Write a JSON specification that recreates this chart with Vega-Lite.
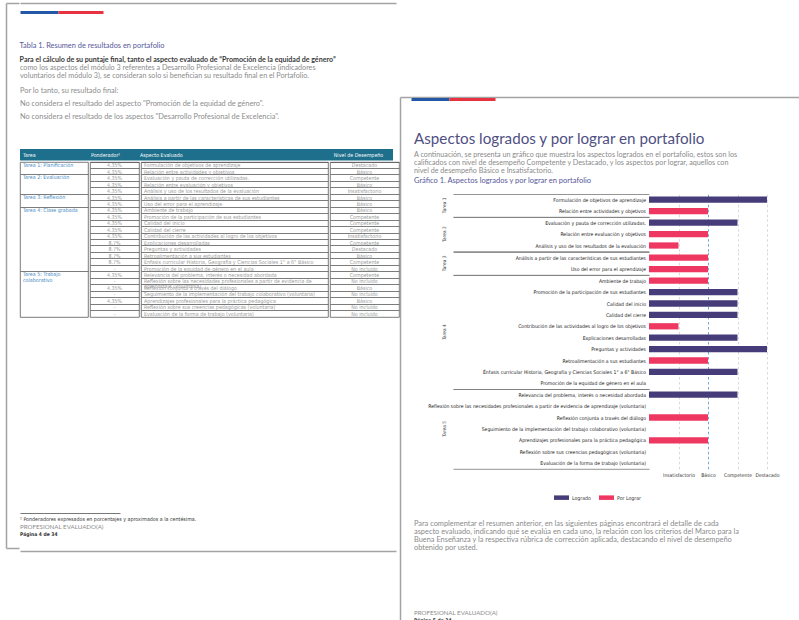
{
  "$schema": "https://vega.github.io/schema/vega-lite/v6.json",
  "background": "#ffffff",
  "padding": {"left": 6, "top": 3, "right": 0, "bottom": 0},
  "spacing": 0,
  "config": {
    "view": {"stroke": null},
    "font": "Lato",
    "title": {"anchor": "start", "frame": "bounds"},
    "axis": {"labelFont": "DejaVu Sans Condensed"}
  },
  "datasets": {
    "aspectos": [
      {"tarea": "Tarea 1", "tarea_nombre": "Tarea 1: Planificación", "aspecto": "Formulación de objetivos de aprendizaje", "ponderador": "4.35%", "nivel": "Destacado", "puntaje": 4, "estado": "Logrado"},
      {"tarea": "Tarea 1", "tarea_nombre": "Tarea 1: Planificación", "aspecto": "Relación entre actividades y objetivos", "ponderador": "4.35%", "nivel": "Básico", "puntaje": 2, "estado": "Por Lograr"},
      {"tarea": "Tarea 2", "tarea_nombre": "Tarea 2: Evaluación", "aspecto": "Evaluación y pauta de corrección utilizadas.", "ponderador": "4.35%", "nivel": "Competente", "puntaje": 3, "estado": "Logrado"},
      {"tarea": "Tarea 2", "tarea_nombre": "Tarea 2: Evaluación", "aspecto": "Relación entre evaluación y objetivos", "ponderador": "4.35%", "nivel": "Básico", "puntaje": 2, "estado": "Por Lograr"},
      {"tarea": "Tarea 2", "tarea_nombre": "Tarea 2: Evaluación", "aspecto": "Análisis y uso de los resultados de la evaluación", "ponderador": "4.35%", "nivel": "Insatisfactorio", "puntaje": 1, "estado": "Por Lograr"},
      {"tarea": "Tarea 3", "tarea_nombre": "Tarea 3: Reflexión", "aspecto": "Análisis a partir de las características de sus estudiantes", "ponderador": "4.35%", "nivel": "Básico", "puntaje": 2, "estado": "Por Lograr"},
      {"tarea": "Tarea 3", "tarea_nombre": "Tarea 3: Reflexión", "aspecto": "Uso del error para el aprendizaje", "ponderador": "4.35%", "nivel": "Básico", "puntaje": 2, "estado": "Por Lograr"},
      {"tarea": "Tarea 4", "tarea_nombre": "Tarea 4: Clase grabada", "aspecto": "Ambiente de trabajo", "ponderador": "4.35%", "nivel": "Básico", "puntaje": 2, "estado": "Por Lograr"},
      {"tarea": "Tarea 4", "tarea_nombre": "Tarea 4: Clase grabada", "aspecto": "Promoción de la participación de sus estudiantes", "ponderador": "4.35%", "nivel": "Competente", "puntaje": 3, "estado": "Logrado"},
      {"tarea": "Tarea 4", "tarea_nombre": "Tarea 4: Clase grabada", "aspecto": "Calidad del inicio", "ponderador": "4.35%", "nivel": "Competente", "puntaje": 3, "estado": "Logrado"},
      {"tarea": "Tarea 4", "tarea_nombre": "Tarea 4: Clase grabada", "aspecto": "Calidad del cierre", "ponderador": "4.35%", "nivel": "Competente", "puntaje": 3, "estado": "Logrado"},
      {"tarea": "Tarea 4", "tarea_nombre": "Tarea 4: Clase grabada", "aspecto": "Contribución de las actividades al logro de los objetivos", "ponderador": "4.35%", "nivel": "Insatisfactorio", "puntaje": 1, "estado": "Por Lograr"},
      {"tarea": "Tarea 4", "tarea_nombre": "Tarea 4: Clase grabada", "aspecto": "Explicaciones desarrolladas", "ponderador": "8.7%", "nivel": "Competente", "puntaje": 3, "estado": "Logrado"},
      {"tarea": "Tarea 4", "tarea_nombre": "Tarea 4: Clase grabada", "aspecto": "Preguntas y actividades", "ponderador": "8.7%", "nivel": "Destacado", "puntaje": 4, "estado": "Logrado"},
      {"tarea": "Tarea 4", "tarea_nombre": "Tarea 4: Clase grabada", "aspecto": "Retroalimentación a sus estudiantes", "ponderador": "8.7%", "nivel": "Básico", "puntaje": 2, "estado": "Por Lograr"},
      {"tarea": "Tarea 4", "tarea_nombre": "Tarea 4: Clase grabada", "aspecto": "Énfasis curricular Historia, Geografía y Ciencias Sociales 1° a 6° Básico", "ponderador": "8.7%", "nivel": "Competente", "puntaje": 3, "estado": "Logrado"},
      {"tarea": "Tarea 4", "tarea_nombre": "Tarea 4: Clase grabada", "aspecto": "Promoción de la equidad de género en el aula", "ponderador": "-", "nivel": "No incluido", "puntaje": null, "estado": null},
      {"tarea": "Tarea 5", "tarea_nombre": "Tarea 5: Trabajo\ncolaborativo", "aspecto": "Relevancia del problema, interés o necesidad abordada", "ponderador": "4.35%", "nivel": "Competente", "puntaje": 3, "estado": "Logrado"},
      {"tarea": "Tarea 5", "tarea_nombre": "Tarea 5: Trabajo\ncolaborativo", "aspecto": "Reflexión sobre las necesidades profesionales a partir de evidencia de \u200baprendizaje (voluntaria)", "ponderador": "-", "nivel": "No incluido", "puntaje": null, "estado": null},
      {"tarea": "Tarea 5", "tarea_nombre": "Tarea 5: Trabajo\ncolaborativo", "aspecto": "Reflexión conjunta a través del diálogo", "ponderador": "4.35%", "nivel": "Básico", "puntaje": 2, "estado": "Por Lograr"},
      {"tarea": "Tarea 5", "tarea_nombre": "Tarea 5: Trabajo\ncolaborativo", "aspecto": "Seguimiento de la implementación del trabajo colaborativo (voluntaria)", "ponderador": "-", "nivel": "No incluido", "puntaje": null, "estado": null},
      {"tarea": "Tarea 5", "tarea_nombre": "Tarea 5: Trabajo\ncolaborativo", "aspecto": "Aprendizajes profesionales para la práctica pedagógica", "ponderador": "4.35%", "nivel": "Básico", "puntaje": 2, "estado": "Por Lograr"},
      {"tarea": "Tarea 5", "tarea_nombre": "Tarea 5: Trabajo\ncolaborativo", "aspecto": "Reflexión sobre sus creencias pedagógicas (voluntaria)", "ponderador": "-", "nivel": "No incluido", "puntaje": null, "estado": null},
      {"tarea": "Tarea 5", "tarea_nombre": "Tarea 5: Trabajo\ncolaborativo", "aspecto": "Evaluación de la forma de trabajo (voluntaria)", "ponderador": "-", "nivel": "No incluido", "puntaje": null, "estado": null}
    ],
    "encabezado": [
      {"col": "Tarea"}, {"col": "Ponderador¹"}, {"col": "Aspecto Evaluado"}, {"col": "Nivel de Desempeño"}
    ],
    "pie_izq": [
      {"t": "¹ Ponderadores expresados en porcentajes y aproximados a la centésima.", "k": "nota"},
      {"t": "PROFESIONAL EVALUADO(A)", "k": "perfil"},
      {"t": "Página 4 de 34", "k": "pagina"}
    ],
    "parrafo": [
      {"linea": "Para complementar el resumen anterior, en las siguientes páginas encontrará el detalle de cada"},
      {"linea": "aspecto evaluado, indicando qué se evalúa en cada uno, la relación con los criterios del Marco para la"},
      {"linea": "Buena Enseñanza y la respectiva rúbrica de corrección aplicada, destacando el nivel de desempeño"},
      {"linea": "obtenido por usted."}
    ],
    "pie_der": [
      {"t": "PROFESIONAL EVALUADO(A)", "k": "perfil"},
      {"t": "Página 5 de 34", "k": "pagina"}
    ]
  },
  "hconcat": [
    {
      "spacing": 0,
      "hconcat": [
        {
          "data": {"values": []}, "width": 13, "height": 545,
          "resolve": {"axis": {"x": "independent"}},
          "layer": [
            {"mark": "point", "encoding": {
              "x": {"field": "v", "type": "quantitative", "scale": {"domain": [0, 1]}, "axis": {"orient": "top", "domain": true, "domainColor": "#a3a3a3", "domainWidth": 1.5, "ticks": false, "labels": false, "grid": false, "title": null}},
              "y": {"field": "w", "type": "quantitative", "scale": {"domain": [0, 1]}, "axis": {"orient": "left", "domain": true, "domainColor": "#a3a3a3", "domainWidth": 1.5, "ticks": false, "labels": false, "grid": false, "title": null}}}},
            {"mark": "point", "encoding": {
              "x": {"field": "v", "type": "quantitative", "axis": {"orient": "bottom", "domain": true, "domainColor": "#a3a3a3", "domainWidth": 1.5, "ticks": false, "labels": false, "grid": false, "title": null}}}}
          ]
        },
        {
          "spacing": 10,
          "vconcat": [
            {
              "spacing": 0,
              "vconcat": [
                {"data": {"values": []}, "mark": "point", "width": 376, "height": 9,
                 "encoding": {"x": {"field": "v", "type": "quantitative", "scale": {"domain": [0, 1]}, "axis": {"orient": "top", "domain": true, "domainColor": "#a3a3a3", "domainWidth": 1.5, "ticks": false, "labels": false, "grid": false, "title": null}}}},
                {
                  "spacing": 195,
                  "vconcat": [
                    {
                      "spacing": 29,
                      "vconcat": [
                        {
                          "spacing": 0,
                          "hconcat": [
                            {"data": {"values": []}, "mark": "point", "width": 38, "height": 1,
                             "encoding": {"x": {"field": "v", "type": "quantitative", "scale": {"domain": [0, 1]}, "axis": {"orient": "top", "domain": true, "domainColor": "#2357a8", "domainWidth": 3, "ticks": false, "labels": false, "grid": false, "title": null}}}},
                            {"data": {"values": []}, "mark": "point", "width": 45, "height": 1,
                             "encoding": {"x": {"field": "v", "type": "quantitative", "scale": {"domain": [0, 1]}, "axis": {"orient": "top", "domain": true, "domainColor": "#e8323f", "domainWidth": 3, "ticks": false, "labels": false, "grid": false, "title": null}}}}
                          ]
                        },
                        {
                          "title": {"text": "Tabla 1. Resumen de resultados en portafolio", "subtitle": "Para el cálculo de su puntaje final, tanto el aspecto evaluado de “Promoción de la equidad de género”", "font": "Lato", "fontSize": 7.4, "fontWeight": "normal", "color": "#56589a", "subtitleFont": "Lato", "subtitleFontSize": 7.1, "subtitleFontWeight": "bold", "subtitleColor": "#3a3a3a", "subtitlePadding": 6, "offset": 1},
                          "spacing": 0,
                          "vconcat": [
                            {
                              "title": {"text": ["como los aspectos del módulo 3 referentes a Desarrollo Profesional de Excelencia (indicadores", "voluntarios del módulo 3), se consideran solo si benefician su resultado final en el Portafolio."], "font": "Lato", "fontSize": 7.2, "fontWeight": "normal", "color": "#8c8c8c", "lineHeight": 8.7, "subtitle": ["Por lo tanto, su resultado final:", "No considera el resultado del aspecto \"Promoción de la equidad de género\".", "No considera el resultado de los aspectos \"Desarrollo Profesional de Excelencia\"."], "subtitleFont": "Lato", "subtitleFontSize": 7.4, "subtitleColor": "#8c8c8c", "subtitleLineHeight": 13, "subtitlePadding": 7, "offset": 29},
                              "spacing": 0,
                              "hconcat": [
                                {"data": {"name": "encabezado"}, "transform": [{"filter": "datum.col === 'Tarea'"}], "width": 68, "height": 11.5, "view": {"fill": "#1d6f8c", "stroke": null},
                                 "mark": {"type": "text", "align": "left", "dx": 3, "font": "DejaVu Sans Condensed", "fontSize": 5.3, "color": "#ffffff"},
                                 "encoding": {"x": {"datum": 0, "type": "quantitative", "scale": {"domain": [0, 1]}, "axis": null}, "text": {"field": "col"}}},
                                {"data": {"name": "encabezado"}, "transform": [{"filter": "datum.col === 'Ponderador¹'"}], "width": 49, "height": 11.5, "view": {"fill": "#1d6f8c", "stroke": null},
                                 "mark": {"type": "text", "align": "left", "dx": 3, "font": "DejaVu Sans Condensed", "fontSize": 5.3, "color": "#ffffff"},
                                 "encoding": {"x": {"datum": 0, "type": "quantitative", "scale": {"domain": [0, 1]}, "axis": null}, "text": {"field": "col"}}},
                                {"data": {"name": "encabezado"}, "transform": [{"filter": "datum.col === 'Aspecto Evaluado'"}], "width": 187, "height": 11.5, "view": {"fill": "#1d6f8c", "stroke": null},
                                 "mark": {"type": "text", "align": "left", "dx": 3, "font": "DejaVu Sans Condensed", "fontSize": 5.3, "color": "#ffffff"},
                                 "encoding": {"x": {"datum": 0, "type": "quantitative", "scale": {"domain": [0, 1]}, "axis": null}, "text": {"field": "col"}}},
                                {"data": {"name": "encabezado"}, "transform": [{"filter": "datum.col === 'Nivel de Desempeño'"}], "width": 69, "height": 11.5, "view": {"fill": "#1d6f8c", "stroke": null},
                                 "mark": {"type": "text", "align": "center", "font": "DejaVu Sans Condensed", "fontSize": 5.3, "color": "#ffffff"},
                                 "encoding": {"text": {"field": "col"}}}
                              ]
                            },
                            {
                              "spacing": 0,
                              "hconcat": [
                                {"data": {"name": "aspectos"}, "transform": [{"window": [{"op": "row_number", "as": "orden"}], "groupby": ["tarea"]}],
                                 "width": 68, "height": 155, "view": {"stroke": "#5a5a5a", "strokeWidth": 0.8},
                                 "mark": {"type": "text", "align": "left", "baseline": "top", "dx": 3, "dy": -2.7, "font": "DejaVu Sans Condensed", "fontSize": 5.3, "color": "#4a8cc4", "lineBreak": "\n", "lineHeight": 5.6},
                                 "encoding": {
                                   "y": {"field": "aspecto", "type": "nominal", "sort": null, "scale": {"type": "band", "paddingInner": 0, "paddingOuter": 0}, "axis": {"domain": false, "ticks": false, "labels": false, "title": null, "grid": true, "gridColor": "#5a5a5a", "gridWidth": 0.8, "bandPosition": 0, "values": ["Evaluación y pauta de corrección utilizadas.", "Análisis a partir de las características de sus estudiantes", "Ambiente de trabajo", "Relevancia del problema, interés o necesidad abordada"]}},
                                   "x": {"datum": 0, "type": "quantitative", "scale": {"domain": [0, 1]}, "axis": null},
                                   "text": {"condition": {"test": "datum.orden === 1", "field": "tarea_nombre"}, "value": ""}
                                 }},
                                {"data": {"name": "aspectos"}, "width": 49, "height": 155, "view": {"stroke": "#5a5a5a", "strokeWidth": 0.8},
                                 "mark": {"type": "text", "align": "center", "baseline": "middle", "font": "DejaVu Sans Condensed", "fontSize": 5.3, "color": "#9a9a9a"},
                                 "encoding": {
                                   "y": {"field": "aspecto", "type": "nominal", "sort": null, "scale": {"type": "band", "paddingInner": 0, "paddingOuter": 0}, "axis": {"domain": false, "ticks": false, "labels": false, "title": null, "grid": true, "gridColor": "#5a5a5a", "gridWidth": 0.8, "bandPosition": 0}},
                                   "text": {"field": "ponderador"}
                                 }},
                                {"data": {"name": "aspectos"}, "width": 187, "height": 155, "view": {"stroke": "#5a5a5a", "strokeWidth": 0.8},
                                 "mark": {"type": "text", "align": "left", "baseline": "middle", "dx": 3, "font": "DejaVu Sans Condensed", "fontSize": 5.3, "color": "#9a9a9a", "lineBreak": "\u200b", "lineHeight": 4.8},
                                 "encoding": {
                                   "y": {"field": "aspecto", "type": "nominal", "sort": null, "scale": {"type": "band", "paddingInner": 0, "paddingOuter": 0}, "axis": {"domain": false, "ticks": false, "labels": false, "title": null, "grid": true, "gridColor": "#5a5a5a", "gridWidth": 0.8, "bandPosition": 0}},
                                   "x": {"datum": 0, "type": "quantitative", "scale": {"domain": [0, 1]}, "axis": null},
                                   "text": {"field": "aspecto"}
                                 }},
                                {"data": {"name": "aspectos"}, "width": 69, "height": 155, "view": {"stroke": "#5a5a5a", "strokeWidth": 0.8},
                                 "mark": {"type": "text", "align": "center", "baseline": "middle", "font": "DejaVu Sans Condensed", "fontSize": 5.3, "color": "#9a9a9a"},
                                 "encoding": {
                                   "y": {"field": "aspecto", "type": "nominal", "sort": null, "scale": {"type": "band", "paddingInner": 0, "paddingOuter": 0}, "axis": {"domain": false, "ticks": false, "labels": false, "title": null, "grid": true, "gridColor": "#5a5a5a", "gridWidth": 0.8, "bandPosition": 0}},
                                   "text": {"field": "nivel"}
                                 }}
                              ]
                            }
                          ]
                        }
                      ]
                    },
                    {
                      "data": {"name": "pie_izq"},
                      "width": 100, "height": {"step": 7.5},
                      "encoding": {
                        "y": {"field": "t", "type": "nominal", "sort": null, "axis": null, "scale": {"type": "point", "padding": 0.8}},
                        "x": {"datum": 0, "type": "quantitative", "scale": {"domain": [0, 1]}, "axis": {"orient": "top", "domain": true, "domainColor": "#555555", "domainWidth": 0.8, "ticks": false, "labels": false, "grid": false, "title": null}},
                        "text": {"field": "t"}
                      },
                      "layer": [
                        {"transform": [{"filter": "datum.k === 'nota'"}], "mark": {"type": "text", "align": "left", "baseline": "middle", "font": "DejaVu Sans Condensed", "fontSize": 5.3, "color": "#333333"}},
                        {"transform": [{"filter": "datum.k === 'perfil'"}], "mark": {"type": "text", "align": "left", "baseline": "middle", "font": "Lato", "fontSize": 6.2, "color": "#8c8c8c"}},
                        {"transform": [{"filter": "datum.k === 'pagina'"}], "mark": {"type": "text", "align": "left", "baseline": "middle", "font": "DejaVu Sans Condensed", "fontSize": 5, "fontWeight": "bold", "color": "#333333"}}
                      ]
                    }
                  ]
                }
              ]
            },
            {"data": {"values": []}, "mark": "point", "width": 376, "height": 1,
             "encoding": {"x": {"field": "v", "type": "quantitative", "scale": {"domain": [0, 1]}, "axis": {"orient": "bottom", "domain": true, "domainColor": "#a3a3a3", "domainWidth": 1.5, "ticks": false, "labels": false, "grid": false, "title": null}}}}
          ]
        }
      ]
    },
    {
      "spacing": 0,
      "hconcat": [
        {
          "spacing": 0,
          "vconcat": [
            {"data": {"values": []}, "mark": "point", "width": 11, "height": 94},
            {"data": {"values": []}, "mark": "point", "width": 11, "height": 523,
             "encoding": {
               "x": {"field": "v", "type": "quantitative", "scale": {"domain": [0, 1]}, "axis": {"orient": "top", "domain": true, "domainColor": "#a3a3a3", "domainWidth": 1.5, "ticks": false, "labels": false, "grid": false, "title": null}},
               "y": {"field": "w", "type": "quantitative", "scale": {"domain": [0, 1]}, "axis": {"orient": "left", "domain": true, "domainColor": "#a3a3a3", "domainWidth": 1.5, "ticks": false, "labels": false, "grid": false, "title": null}}}}
          ]
        },
        {
          "spacing": 57,
          "vconcat": [
            {
              "spacing": 42,
              "vconcat": [
                {
                  "spacing": 32,
                  "vconcat": [
                    {
                      "spacing": 2,
                      "vconcat": [
                        {"data": {"values": []}, "mark": "point", "width": 392, "height": 94,
                         "encoding": {"x": {"field": "v", "type": "quantitative", "scale": {"domain": [0, 1]}, "axis": {"orient": "bottom", "domain": true, "domainColor": "#a3a3a3", "domainWidth": 1.5, "ticks": false, "labels": false, "grid": false, "title": null}}}},
                        {
                          "spacing": 0,
                          "hconcat": [
                            {"data": {"values": []}, "mark": "point", "width": 38, "height": 1,
                             "encoding": {"x": {"field": "v", "type": "quantitative", "scale": {"domain": [0, 1]}, "axis": {"orient": "top", "domain": true, "domainColor": "#2357a8", "domainWidth": 3, "ticks": false, "labels": false, "grid": false, "title": null}}}},
                            {"data": {"values": []}, "mark": "point", "width": 46, "height": 1,
                             "encoding": {"x": {"field": "v", "type": "quantitative", "scale": {"domain": [0, 1]}, "axis": {"orient": "top", "domain": true, "domainColor": "#e8323f", "domainWidth": 3, "ticks": false, "labels": false, "grid": false, "title": null}}}}
                          ]
                        }
                      ]
                    },
                    {
                      "title": {"text": "Aspectos logrados y por lograr en portafolio", "subtitle": ["A continuación, se presenta un gráfico que muestra los aspectos logrados en el portafolio, estos son los", "calificados con nivel de desempeño Competente y Destacado, y los aspectos por lograr, aquellos con", "nivel de desempeño Básico e Insatisfactorio."], "font": "Lato", "fontSize": 15.2, "fontWeight": "normal", "color": "#4f4f82", "subtitleFont": "Lato", "subtitleFontSize": 7.2, "subtitleColor": "#8a8a8a", "subtitleLineHeight": 7.8, "subtitlePadding": 4, "offset": 3, "dx": 3},
                      "vconcat": [
                        {
                          "title": {"text": "Gráfico 1. Aspectos logrados y por lograr en portafolio", "font": "Lato", "fontSize": 7.5, "fontWeight": "normal", "color": "#56589a", "offset": 9, "dx": 3},
                          "spacing": 0,
                          "hconcat": [
                            {"data": {"values": []}, "mark": "point", "width": 17, "height": 1},
                            {
                              "data": {"name": "aspectos"},
                              "facet": {"row": {"field": "tarea", "type": "nominal", "header": {"title": null, "labelAngle": -90, "labelFont": "DejaVu Sans Condensed", "labelFontSize": 4.8, "labelColor": "#444444", "labelPadding": 3}}},
                              "spacing": 0,
                              "bounds": "flush",
                              "resolve": {"scale": {"y": "independent"}, "axis": {"x": "independent"}},
                              "spec": {
                                "width": 196, "height": {"step": 11.4},
                                "resolve": {"axis": {"x": "independent"}},
                                "layer": [
                                  {"mark": {"type": "text", "align": "right", "baseline": "middle", "dx": -3, "font": "DejaVu Sans Condensed", "fontSize": 5.1, "color": "#222222"},
                                   "encoding": {
                                     "y": {"field": "aspecto", "type": "nominal", "sort": null, "axis": null},
                                     "x": {"datum": 1, "type": "quantitative", "scale": {"domain": [0, 1]}, "axis": {"orient": "top", "domain": true, "domainColor": "#7a7a7a", "domainWidth": 0.8, "ticks": false, "labels": false, "grid": false, "title": null}},
                                     "text": {"field": "aspecto"}
                                   }},
                                  {"mark": {"type": "text", "align": "right"},
                                   "encoding": {
                                     "y": {"field": "aspecto", "type": "nominal", "sort": null, "axis": null},
                                     "x": {"datum": 1, "type": "quantitative", "axis": {"orient": "bottom", "domain": true, "domainColor": "#7a7a7a", "domainWidth": 0.8, "ticks": false, "labels": false, "grid": false, "title": null}},
                                     "text": {"value": ""}
                                   }}
                                ]
                              }
                            },
                            {
                              "data": {"name": "aspectos"},
                              "facet": {"row": {"field": "tarea", "type": "nominal", "header": null}},
                              "spacing": 0,
                              "bounds": "flush",
                              "resolve": {"scale": {"y": "independent"}},
                              "spec": {
                                "width": 118, "height": {"step": 11.4},
                                "mark": {"type": "bar", "invalid": "show"},
                                "encoding": {
                                  "y": {"field": "aspecto", "type": "nominal", "sort": null, "axis": null, "scale": {"paddingInner": 0.45, "paddingOuter": 0.225}},
                                  "x": {"field": "puntaje", "type": "quantitative", "scale": {"domain": [0, 4]},
                                        "axis": {"values": [1, 2, 3, 4], "labelExpr": "['', 'Insatisfactorio', 'Básico', 'Competente', 'Destacado'][datum.value]", "labelOverlap": false, "labelFlush": false, "grid": true, "gridDash": [2.5, 2.5], "gridWidth": 0.8, "gridColor": {"condition": {"test": "datum.value === 2", "value": "#4d8fcc"}, "value": "#cfcfcf"}, "domain": false, "ticks": false, "title": null, "labelFontSize": 5, "labelFont": "DejaVu Sans Condensed", "labelColor": "#333333", "labelPadding": 3}},
                                  "color": {"field": "estado", "type": "nominal", "scale": {"domain": ["Logrado", "Por Lograr"], "range": ["#463c79", "#ef3861"]},
                                            "legend": {"orient": "none", "legendX": 548, "legendY": 487, "direction": "horizontal", "title": null, "symbolType": "M-1,-0.3H1V0.3H-1Z", "symbolSize": 225, "symbolStrokeWidth": 0, "labelFont": "DejaVu Sans Condensed", "labelFontSize": 5.2, "labelColor": "#333333", "columnPadding": 8, "labelOffset": 3}}
                                }
                              }
                            }
                          ]
                        }
                      ]
                    }
                  ]
                },
                {
                  "data": {"name": "parrafo"},
                  "width": 376, "height": {"step": 7.9},
                  "mark": {"type": "text", "align": "left", "baseline": "middle", "dx": 3, "font": "Lato", "fontSize": 7.4, "color": "#8a8a8a"},
                  "encoding": {
                    "y": {"field": "linea", "type": "nominal", "sort": null, "axis": null, "scale": {"type": "point", "padding": 0.5}},
                    "x": {"datum": 0, "type": "quantitative", "scale": {"domain": [0, 1]}, "axis": null},
                    "text": {"field": "linea"}
                  }
                }
              ]
            },
            {
              "data": {"name": "pie_der"},
              "width": 100, "height": {"step": 7.5},
              "encoding": {
                "y": {"field": "t", "type": "nominal", "sort": null, "axis": null, "scale": {"type": "point", "padding": 0.5}},
                "x": {"datum": 0, "type": "quantitative", "scale": {"domain": [0, 1]}, "axis": null},
                "text": {"field": "t"}
              },
              "layer": [
                {"transform": [{"filter": "datum.k === 'perfil'"}], "mark": {"type": "text", "align": "left", "baseline": "middle", "dx": 3, "font": "Lato", "fontSize": 6.2, "color": "#8c8c8c"}},
                {"transform": [{"filter": "datum.k === 'pagina'"}], "mark": {"type": "text", "align": "left", "baseline": "middle", "dx": 3, "font": "DejaVu Sans Condensed", "fontSize": 5, "fontWeight": "bold", "color": "#333333"}}
              ]
            }
          ]
        }
      ]
    }
  ]
}
